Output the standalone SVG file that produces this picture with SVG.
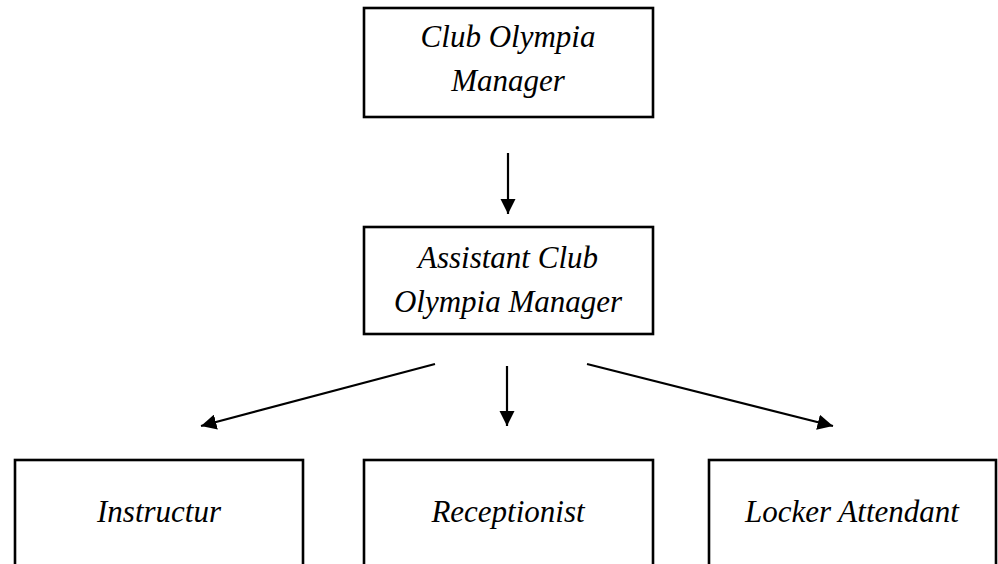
<svg xmlns="http://www.w3.org/2000/svg" width="998" height="564" viewBox="0 0 998 564">
<defs>
<style>
.box{fill:#fff;stroke:#000;stroke-width:2.6}
.t{font-family:'Liberation Serif','Times New Roman',Tinos,'DejaVu Serif',serif;font-style:italic;font-size:31px;fill:#000;text-anchor:middle}
.c{stroke:#000;stroke-width:2.2;fill:none;marker-end:url(#ah)}
</style>
<marker id="ah" viewBox="0 0 10 10" refX="10" refY="5" markerWidth="7" markerHeight="7" markerUnits="strokeWidth" orient="auto">
<path d="M0,0 L10,5 L0,10 z" fill="#000"/>
</marker>
</defs>
<rect width="998" height="564" fill="#fff"/>
<g id="connectors">
<line class="c" x1="508" y1="153" x2="508" y2="214"/>
<line class="c" x1="435" y1="364" x2="201" y2="426"/>
<line class="c" x1="507" y1="366" x2="507" y2="426"/>
<line class="c" x1="587" y1="364" x2="833" y2="426"/>
</g>
<g id="manager">
<rect class="box" x="364" y="8" width="289" height="109"/>
<text class="t" x="508" y="47" font-family="Liberation Serif, serif">Club Olympia</text>
<text class="t" x="508" y="91" font-family="Liberation Serif, serif">Manager</text>
</g>
<g id="assistant">
<rect class="box" x="364" y="227" width="289" height="107"/>
<text class="t" x="508" y="268">Assistant Club</text>
<text class="t" x="508" y="312">Olympia Manager</text>
</g>
<g id="instructur">
<rect class="box" x="15" y="460" width="288" height="120"/>
<text class="t" x="159" y="522">Instructur</text>
</g>
<g id="receptionist">
<rect class="box" x="364" y="460" width="289" height="120"/>
<text class="t" x="508" y="522">Receptionist</text>
</g>
<g id="locker">
<rect class="box" x="709" y="460" width="287" height="120"/>
<text class="t" x="852" y="522">Locker Attendant</text>
</g>
</svg>
